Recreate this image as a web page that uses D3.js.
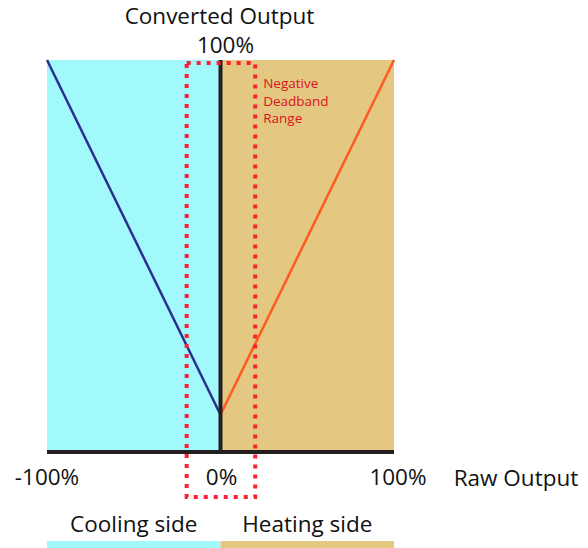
<!DOCTYPE html>
<html>
<head>
<meta charset="utf-8">
<script src="https://cdn.jsdelivr.net/npm/d3@7"></script>
<style>
  body { margin: 0; background: #fff; }
  svg { display: block; font-family: "Open Sans", "Noto Sans", sans-serif; }
</style>
</head>
<body>
<div id="chart"></div>
<script>
const rawTicks = [-100, 0, 100]
const rawTickLabels = ["-100%", "0%", "100%"]
const coolingLine = [{ raw: -100, out: 100 }, { raw: 0, out: 9.5 }]
const heatingLine = [{ raw: 0, out: 9.5 }, { raw: 100, out: 100 }]
const deadband = [-19.5, 20]
const sides = [
  { name: "Cooling side", from: -100, to: 0, color: "#a2f9fc" },
  { name: "Heating side", from: 0, to: 100, color: "#e4c780" }
]

function createChart() {
  const W = 588, H = 548
  const fs = "22.5px"
  const svg = d3.select("#chart").append("svg").attr("width", W).attr("height", H)

  const x = d3.scaleLinear().domain([-100, 100]).range([47, 394])
  const y = d3.scaleLinear().domain([0, 100]).range([452, 60])

  // background zones
  svg.selectAll(".zone")
    .data(sides)
    .enter()
    .append("rect")
    .attr("class", "zone")
    .attr("x", (d) => x(d.from))
    .attr("y", y(100))
    .attr("width", (d) => x(d.to) - x(d.from))
    .attr("height", y(0) - y(100))
    .attr("fill", (d) => d.color)

  // bottom legend strips
  svg.selectAll(".strip")
    .data(sides)
    .enter()
    .append("rect")
    .attr("class", "strip")
    .attr("x", (d) => x(d.from))
    .attr("y", 541)
    .attr("width", (d) => x(d.to) - x(d.from))
    .attr("height", 7)
    .attr("fill", (d) => d.color)

  svg.selectAll(".side-label")
    .data(sides)
    .enter()
    .append("text")
    .attr("class", "side-label")
    .attr("x", (d) => (x(d.from) + x(d.to)) / 2)
    .attr("y", 532)
    .attr("text-anchor", "middle")
    .attr("font-size", fs)
    .attr("fill", "#111")
    .text((d) => d.name)

  const line = d3.line().x((d) => x(d.raw)).y((d) => y(d.out))

  svg.append("path")
    .datum(coolingLine)
    .attr("d", line)
    .attr("fill", "none")
    .attr("stroke", "#2b2f8f")
    .attr("stroke-width", 2.5)

  svg.append("path")
    .datum(heatingLine)
    .attr("d", line)
    .attr("fill", "none")
    .attr("stroke", "#ff5a1f")
    .attr("stroke-width", 2.5)

  // axes
  svg.append("line")
    .attr("x1", x(0)).attr("x2", x(0))
    .attr("y1", y(100)).attr("y2", y(0))
    .attr("stroke", "#231f20")
    .attr("stroke-width", 4)

  svg.append("line")
    .attr("x1", x(-100)).attr("x2", x(100))
    .attr("y1", y(0)).attr("y2", y(0))
    .attr("stroke", "#231f20")
    .attr("stroke-width", 4)

  svg.selectAll(".xtick")
    .data(rawTicks)
    .enter()
    .append("text")
    .attr("class", "xtick")
    .attr("x", (d) => x(d) + (d === 0 ? 1 : d > 0 ? 4 : 0))
    .attr("y", 485)
    .attr("text-anchor", "middle")
    .attr("font-size", fs)
    .attr("fill", "#111")
    .text((d, i) => rawTickLabels[i])

  svg.append("text")
    .attr("x", 516)
    .attr("y", 486)
    .attr("text-anchor", "middle")
    .attr("font-size", fs)
    .attr("fill", "#111")
    .text("Raw Output")

  svg.append("text")
    .attr("x", x(0) - 1)
    .attr("y", 24)
    .attr("text-anchor", "middle")
    .attr("font-size", fs)
    .attr("fill", "#111")
    .text("Converted Output")

  svg.append("text")
    .attr("x", x(0) + 5)
    .attr("y", 53)
    .attr("text-anchor", "middle")
    .attr("font-size", fs)
    .attr("fill", "#111")
    .text("100%")

  // deadband dotted box
  svg.append("rect")
    .attr("x", x(deadband[0]))
    .attr("y", 63)
    .attr("width", x(deadband[1]) - x(deadband[0]))
    .attr("height", 434)
    .attr("fill", "none")
    .attr("stroke", "#ff1f35")
    .attr("stroke-width", 4)
    .attr("stroke-dasharray", "4 6")

  const lbl = svg.append("text")
    .attr("x", x(deadband[1]) + 8)
    .attr("y", 88)
    .attr("font-size", "13.5px")
    .attr("fill", "#d8141c")
  ;["Negative", "Deadband", "Range"].forEach((t, i) => {
    lbl.append("tspan").attr("x", x(deadband[1]) + 8).attr("dy", i === 0 ? 0 : 17.5).text(t)
  })
}

createChart()
</script>
</body>
</html>
